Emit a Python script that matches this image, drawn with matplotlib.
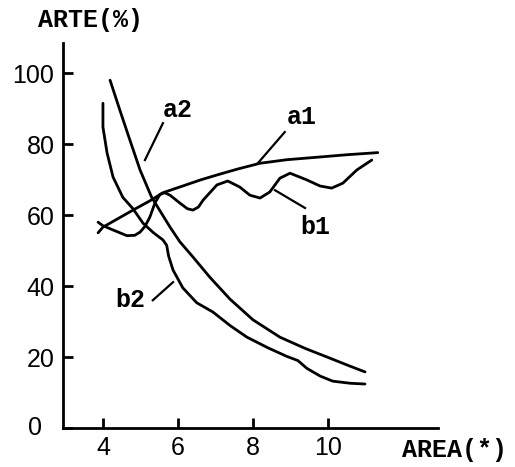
import matplotlib
matplotlib.use("Agg")
import matplotlib.pyplot as plt

# values
a1_x = [3.87, 4.0, 4.4, 4.8, 5.25, 5.6, 6.13, 6.6, 7.04, 7.6, 8.19, 8.9, 9.71, 10.5, 11.33]
a1_y = [55.0, 56.6, 59.0, 61.4, 64.0, 66.3, 68.2, 69.9, 71.3, 73.0, 74.6, 75.6, 76.3, 77.0, 77.6]

b1_x = [3.87, 4.0, 4.27, 4.64, 4.85, 4.99, 5.12, 5.25, 5.39, 5.52, 5.65, 5.79, 6.05, 6.25,
        6.4, 6.55, 6.67, 7.04, 7.33, 7.65, 7.92, 8.19, 8.45, 8.72, 8.99, 9.44, 9.79, 10.1,
        10.4, 10.77, 11.17]
b1_y = [58.0, 57.0, 55.8, 54.2, 54.3, 55.2, 56.8, 59.4, 63.5, 65.8, 66.3, 65.6, 63.4, 61.8,
        61.4, 62.3, 64.2, 68.5, 69.6, 67.9, 65.6, 64.8, 66.5, 70.4, 71.8, 69.9, 68.2, 67.6,
        69.0, 72.7, 75.5]

a2_x = [4.19, 4.45, 4.72, 4.99, 5.3, 5.79, 6.05, 6.4, 6.85, 7.39, 8.0, 8.72, 9.4, 10.05,
        10.5, 10.99]
a2_y = [98.0, 89.6, 81.1, 72.7, 65.0, 56.6, 52.5, 48.2, 42.5, 36.3, 30.5, 25.6, 22.4, 19.7,
        17.8, 15.8]

b2_x = [4.0, 4.0, 4.11, 4.27, 4.53, 4.8, 5.07, 5.35, 5.6, 5.7, 5.75, 5.87, 6.13, 6.5,
        6.93, 7.4, 7.84, 8.4, 8.9, 9.2, 9.44, 9.8, 10.13, 10.6, 10.99]
b2_y = [91.5, 84.8, 77.5, 70.7, 65.0, 61.8, 57.7, 55.0, 53.0, 51.5, 48.5, 44.5, 39.5, 35.3,
        32.7, 28.8, 25.6, 22.6, 20.2, 19.0, 16.8, 14.6, 13.2, 12.6, 12.4]

x_ticks = [4, 6, 8, 10]
y_ticks = [0, 20, 40, 60, 80, 100]

mono = "Liberation Mono"

fig = plt.figure(figsize=(5.15, 4.67), dpi=100)
ax = fig.add_axes([0.122, 0.0835, 0.728, 0.8245])

for xs, ys in [(a1_x, a1_y), (b1_x, b1_y), (a2_x, a2_y), (b2_x, b2_y)]:
    ax.plot(xs, ys, color="black", lw=2.0, solid_capstyle="round", solid_joinstyle="round")

ax.set_xlim(2.93, 12.93)
ax.set_ylim(0, 108.5)
for side in ["top", "right"]:
    ax.spines[side].set_visible(False)
for side in ["left", "bottom"]:
    ax.spines[side].set_linewidth(2.0)

ax.set_xticks(x_ticks)
ax.set_yticks(y_ticks)
ax.set_yticklabels(["" if v == 0 else str(v) for v in y_ticks])
ax.tick_params(direction="in", length=7, width=2.0, labelsize=18, pad=6)
for lab in ax.get_xticklabels() + ax.get_yticklabels():
    lab.set_family("Liberation Sans")

# "0" at the origin, placed under the axis corner
ax.text(-0.055, 0, "0", transform=ax.get_yaxis_transform(), ha="right", va="center",
        fontsize=18, family="Liberation Sans")

fig.text(90 / 515, 1 - 20 / 467, "ARTE(%)", ha="center", va="center",
         fontsize=18, family=mono, fontweight="bold")
fig.text(455 / 515, 1 - 450 / 467, "AREA(*)", ha="center", va="center",
         fontsize=18, family=mono, fontweight="bold")

# curve labels with leader lines
labels = [("a2", 6.0, 89.6, (5.6, 85.9), (5.12, 75.5)),
          ("a1", 9.31, 87.6, (8.85, 83.4), (8.13, 74.6)),
          ("b1", 9.65, 56.6, (8.59, 67.0), (9.39, 62.0)),
          ("b2", 4.72, 36.0, (5.33, 36.0), (5.87, 41.1))]
for txt, tx, ty, p0, p1 in labels:
    ax.text(tx, ty, txt, ha="center", va="center", fontsize=18, family=mono,
            fontweight="bold")
    ax.plot([p0[0], p1[0]], [p0[1], p1[1]], color="black", lw=1.6)

fig.savefig("out.png", dpi=100)
